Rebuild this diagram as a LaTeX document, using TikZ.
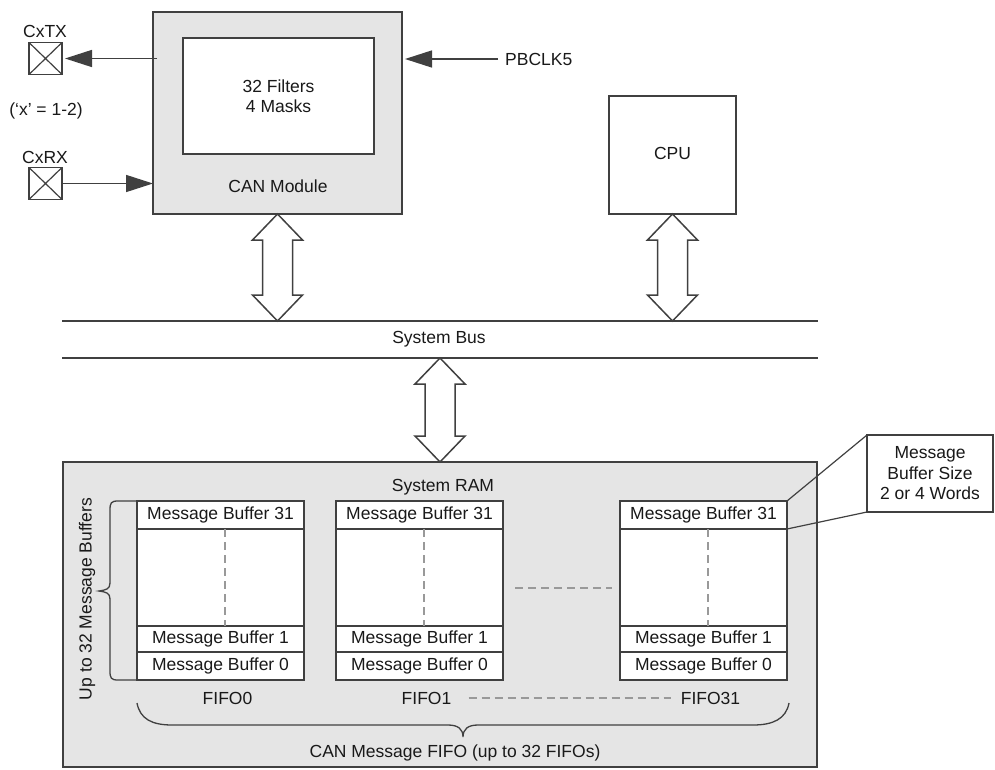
\documentclass[tikz,border=0pt]{standalone}
\usepackage{fontspec}
\setmainfont{Liberation Sans}
\usetikzlibrary{arrows.meta,calc}
\begin{document}
\begin{tikzpicture}[x=1pt,y=-1pt,
  every node/.style={font=\fontsize{17.5}{20.5}\selectfont, text=black!90, inner sep=2pt},
  ln/.style={draw=black!75, line width=1.5pt},
  blk/.style={ln, rectangle, inner sep=0pt, outer sep=0pt},
  graybox/.style={blk, fill=black!10},
  whitebox/.style={blk, fill=white},
  pinbox/.style={blk, fill=white, minimum width=33pt, minimum height=32pt,
    path picture={\draw[black!75, line width=1.2pt] (path picture bounding box.north west) -- (path picture bounding box.south east)
      (path picture bounding box.south west) -- (path picture bounding box.north east);}},
  cell/.style={whitebox, minimum width=167pt, anchor=north},
  arr/.style={ln, -{Triangle[length=27pt,width=17pt]}},
  dblar/.style={ln, fill=white, line join=miter},
  gdash/.style={draw=black!40, line width=2pt, dash pattern=on 8pt off 5pt},
  brc/.style={ln, line width=1.3pt}
]
\useasboundingbox (0,0) rectangle (995,770);

\newcommand\dblarrow[2]{\draw[dblar] let \p1=#1, \p2=#2 in
  (\x1,\y1) -- (\x1+25pt,\y1-26pt) -- (\x1+15pt,\y1-26pt) -- (\x1+15pt,\y2+26pt)
  -- (\x1+25pt,\y2+26pt) -- (\x1,\y2) -- (\x1-25pt,\y2+26pt) -- (\x1-15pt,\y2+26pt)
  -- (\x1-15pt,\y1-26pt) -- (\x1-25pt,\y1-26pt) -- cycle;}

\newcommand\fifo[3]{%
  \node[cell, minimum height=28pt, anchor=north west] (#1a) at (#2,501) {Message Buffer 31};
  \node[cell, minimum height=97pt] (#1b) at (#1a.south) {};
  \node[cell, minimum height=26pt] (#1c) at (#1b.south) {Message Buffer 1};
  \node[cell, minimum height=28pt] (#1d) at (#1c.south) {Message Buffer 0};
  \draw[gdash] ($(#1b.north)+(4,0)$) -- ($(#1b.south)+(4,0)$);
  \node (#1l) at ($(#1d.south)+(7,18)$) {#3};
}

% CAN module
\node[graybox, minimum width=249pt, minimum height=202pt, anchor=north west] (can) at (153,12) {};
\node[whitebox, minimum width=191pt, minimum height=116pt, anchor=north west, align=center] (filt) at (183,38) {32 Filters\\4 Masks};
\node (canl) at (278,186) {CAN Module};

% pins
\node (ctxl) at (45,31) {CxTX};
\node[pinbox] (ctx) at (45.5,58.5) {};
\node (xnote) at (46,111) {(‘x’ = 1-2)};
\node (crxl) at (45,157) {CxRX};
\node[pinbox] (crx) at (45.5,183.5) {};
\node[anchor=west] (pb) at (503,59) {PBCLK5};

\draw[arr, shorten >=3pt] ($(can.west |- ctx.east)+(4,0)$) -- (ctx.east);
\draw[arr] (crx.east) -- (can.west |- crx.east);
\draw[arr, shorten >=3pt] ($(pb.west)+(-5,0)$) -- (can.east |- pb.west);

% CPU
\node[whitebox, minimum width=127pt, minimum height=118pt, anchor=north west] (cpu) at (609,96) {};
\node (cpul) at (672.5,153) {CPU};

% System bus
\coordinate (b1l) at (62,321);
\coordinate (b1r) at (818,321);
\coordinate (b2l) at (62,358);
\coordinate (b2r) at (818,358);
\draw[ln] (b1l) -- (b1r);
\draw[ln] (b2l) -- (b2r);
\node (busl) at (439,339) {System Bus};

% RAM
\node[graybox, minimum width=754pt, minimum height=305pt, anchor=north west] (ram) at (63,462) {};
\node (raml) at (443,487) {System RAM};

% double arrows
\dblarrow{(can.south)}{(can.south |- b1l)}
\dblarrow{(cpu.south)}{(cpu.south |- b1l)}
\dblarrow{(ram.north |- b2l)}{(ram.north)}

% FIFOs
\fifo{fa}{137}{FIFO0}
\fifo{fb}{336}{FIFO1}
\fifo{fc}{620}{FIFO31}
\draw[ln, line width=2.2pt] (fac.south west) -- (fac.south east) (fad.south west) -- (fad.south east);
\draw[ln, line width=2.2pt] (fbc.south west) -- (fbc.south east) (fbd.south west) -- (fbd.south east);
\draw[ln, line width=2.2pt] (fcc.south west) -- (fcc.south east) (fcd.south west) -- (fcd.south east);

\draw[gdash] ($(fbb.east)+(12,10)$) -- ($(fcb.west)+(-8,10)$);
\draw[gdash, shorten <=15pt, shorten >=8pt] (fbl.east) -- (fcl.west);

% left brace
\draw[brc] (faa.north west) -- (118,501) .. controls (111,501) and (110,503) .. (110,510)
  -- (110,583) .. controls (110,589) and (106,590) .. (99,591)
  .. controls (106,592) and (110,593) .. (110,599) -- (110,671)
  .. controls (110,678) and (111,680) .. (118,680) -- (fad.south west);
\node[rotate=90] (upl) at (87,599) {Up to 32 Message Buffers};

% bottom brace
\coordinate (bbl) at (137,703);
\coordinate (bbr) at (789,703);
\draw[brc] (bbl) .. controls (140,719) and (152,725) .. (172,725) -- (448,725)
  .. controls (458,725) and (463,729) .. (463,737)
  .. controls (463,729) and (468,725) .. (478,725) -- (753,725)
  .. controls (773,725) and (786,719) .. (bbr);
\node (canfifo) at (455,753) {CAN Message FIFO (up to 32 FIFOs)};

% callout
\node[whitebox, minimum width=126pt, minimum height=77pt, align=center] (co) at (930,473.5) {Message\\Buffer Size\\2 or 4 Words};
\draw[ln, line width=1.2pt] (fca.north east) -- (co.north west);
\draw[ln, line width=1.2pt] (fca.south east) -- (co.south west);
\end{tikzpicture}
\end{document}
